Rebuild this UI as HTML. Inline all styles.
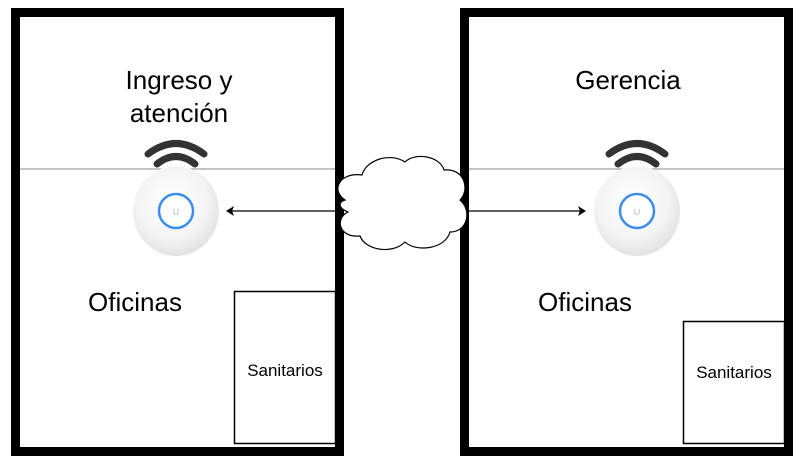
<!DOCTYPE html>
<html><head><style>
body{margin:0;background:#fff;width:802px;height:464px;overflow:hidden;font-family:"Liberation Sans",sans-serif}
</style></head><body>
<svg width="802" height="464" viewBox="0 0 802 464" xmlns="http://www.w3.org/2000/svg">
<defs>
<radialGradient id="ap" cx="45%" cy="40%" r="60%"><stop offset="0" stop-color="#fff"/><stop offset="0.7" stop-color="#f3f3f3"/><stop offset="1" stop-color="#e2e2e2"/></radialGradient>
<g id="apg">
<path d="M-28,-57 Q0,-78 28,-57" stroke="#333" stroke-width="7" fill="none" stroke-linecap="round"/>
<path d="M-19,-47 Q0,-62 19,-47" stroke="#333" stroke-width="7" fill="none" stroke-linecap="round"/>
<path d="M-10,-38 Q0,-45 10,-38" stroke="#333" stroke-width="6" fill="none" stroke-linecap="round"/>
<ellipse cx="0" cy="0" rx="43" ry="45" fill="url(#ap)"/>
<circle cx="0" cy="0" r="17" fill="#fff" stroke="#3a8cf0" stroke-width="2.5"/>
<text x="0" y="4" font-size="9" fill="#bbb" text-anchor="middle">U</text>
</g>
</defs>
<!-- left building -->
<rect x="15.5" y="12.5" width="324" height="439" fill="none" stroke="#000" stroke-width="9"/>
<line x1="20" y1="169" x2="335" y2="169" stroke="#888" stroke-width="1"/>
<rect x="234.5" y="291.5" width="101" height="152" fill="none" stroke="#000" stroke-width="1.5"/>
<!-- right building -->
<rect x="464.5" y="12.5" width="324" height="439" fill="none" stroke="#000" stroke-width="9"/>
<line x1="469" y1="169" x2="784" y2="169" stroke="#888" stroke-width="1"/>
<rect x="683.5" y="321.5" width="101" height="122" fill="none" stroke="#000" stroke-width="1.5"/>
<use href="#apg" x="176" y="211"/>
<use href="#apg" x="637" y="211"/>
<!-- arrows -->
<line x1="335" y1="211" x2="230" y2="211" stroke="#000" stroke-width="1.2"/>
<path d="M226,211 L234,206 L232,211 L234,216Z" fill="#000"/>
<line x1="469" y1="211" x2="581" y2="211" stroke="#000" stroke-width="1.2"/>
<path d="M586,211 L578,206 L580,211 L578,216Z" fill="#000"/>
<!-- cloud -->
<path d="M345,200 C330,190 340,172 362,175 C366,160 390,152 405,162 C415,152 440,156 444,170 C465,168 470,190 460,200 C472,210 468,232 450,232 C445,250 415,252 405,242 C392,255 365,250 360,236 C338,238 335,218 348,212 C338,208 338,202 345,200Z" fill="#fff" stroke="#000" stroke-width="1.2"/>
<g font-size="26" fill="#000" text-anchor="middle">
<text x="179" y="89">Ingreso y</text>
<text x="179" y="122">atención</text>
<text x="628" y="89">Gerencia</text>
<text x="135" y="311">Oficinas</text>
<text x="585" y="311">Oficinas</text>
</g>
<g font-size="17" fill="#000" text-anchor="middle">
<text x="285" y="376">Sanitarios</text>
<text x="734" y="378">Sanitarios</text>
</g>
</svg>
</body></html>
